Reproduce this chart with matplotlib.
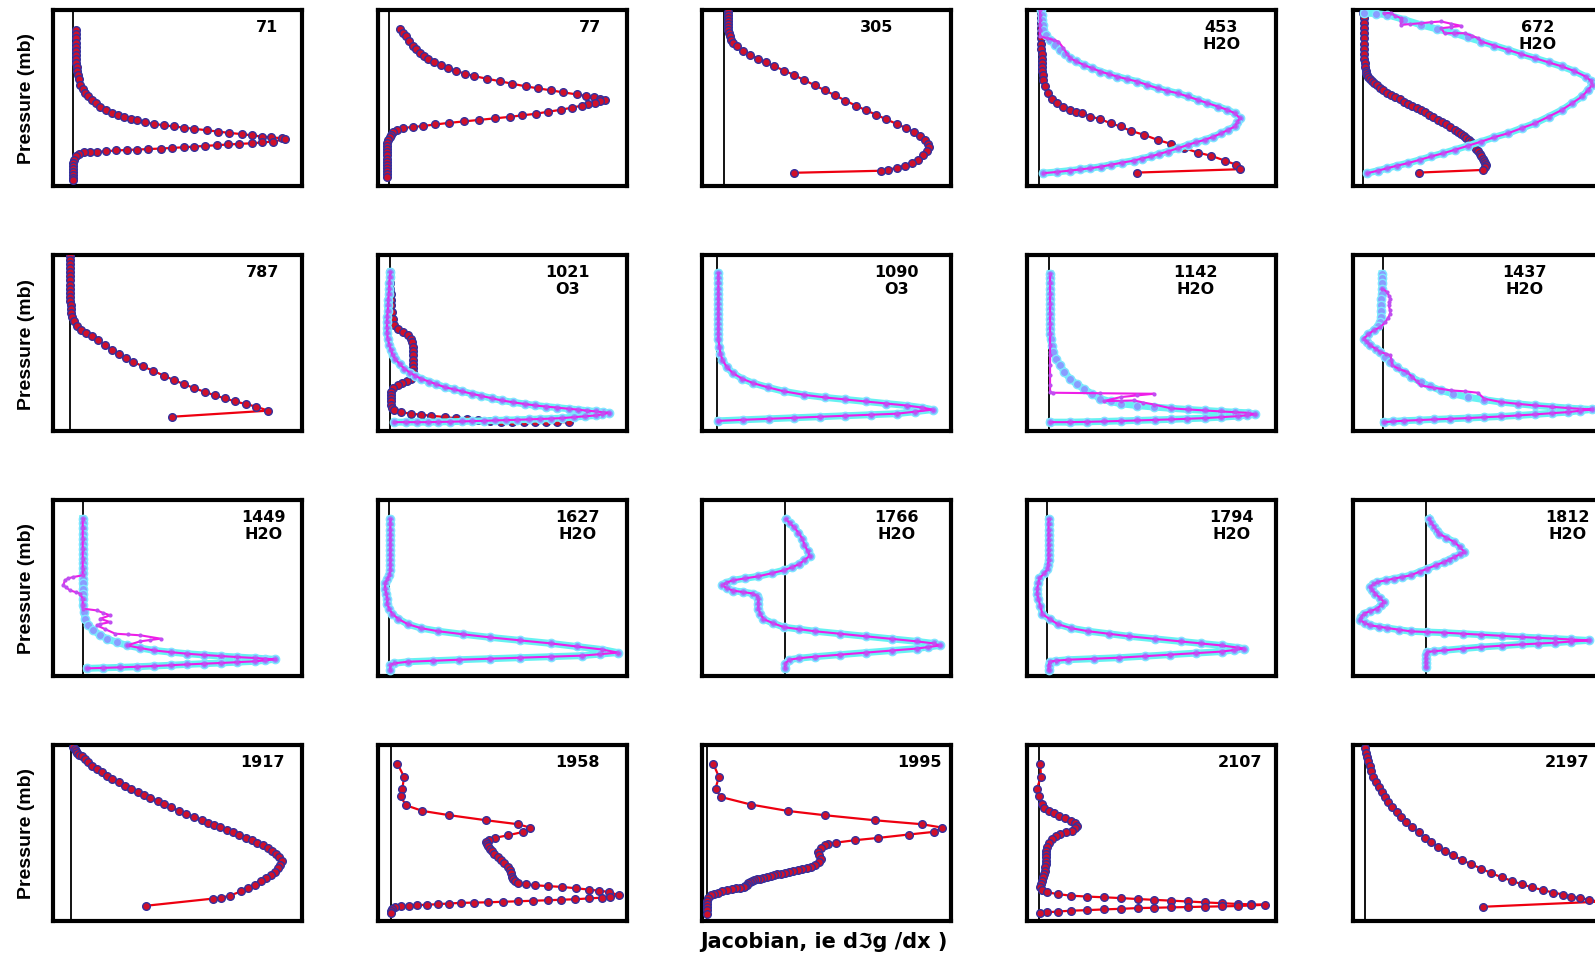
import numpy as np
import matplotlib.pyplot as plt

# channel numbers, absorbing gas and where the zero-Jacobian line sits in each box
channels = ['71', '77', '305', '453', '672',
            '787', '1021', '1090', '1142', '1437',
            '1449', '1627', '1766', '1794', '1812',
            '1917', '1958', '1995', '2107', '2197']
gases = ['', '', '', 'H2O', 'H2O',
         '', 'O3', 'O3', 'H2O', 'H2O',
         'H2O', 'H2O', 'H2O', 'H2O', 'H2O',
         '', '', '', '', '']
zero_off = [20, 11, 21, 12, 10,
            17, 12, 15, 21.5, 29,
            29, 11, 81, 20, 71,
            18, 13, 5, 12, 12]

# temperature jacobians (jacobian, level)
r71 = [(2.7, 19.5), (2.3, 24), (2.2, 28), (2.2, 32), (2.2, 36), (2.3, 40), (2.4, 44), (2.6, 48), (2.8, 52),
       (3, 56), (3.4, 60), (4, 64), (5, 68), (6.7, 73.6), (9, 78), (11.6, 81.8), (14.5, 85), (18, 88.3),
       (22, 91.6), (26.3, 94.9), (31.5, 98), (37.8, 101.4), (43, 103.5), (49.3, 105.4), (56, 107),
       (62.4, 108.6), (70, 110.5), (78.8, 112), (88, 113.3), (98.4, 114.5), (108, 115.7), (118, 116.8),
       (130, 118.2), (141, 119.5), (152, 120.8), (164, 122), (174, 123.2), (183.6, 124.4), (193, 125.2),
       (203, 126), (206.6, 126.8), (195, 129.3), (184, 130.2), (174, 131), (162, 131.6), (151, 132.2),
       (140, 132.9), (128, 133.6), (118, 134.3), (108, 134.9), (96, 135.6), (85, 136.2), (73, 136.7),
       (62, 137.2), (52, 137.6), (41, 138.1), (32, 138.8), (23, 139.5), (16, 139.8), (10, 140), (5, 141.4),
       (2.7, 144), (0.8, 147.3), (-0.5, 150), (-0.5, 153), (-0.5, 156), (-0.5, 159), (-0.5, 162),
       (-0.5, 165), (-0.5, 167)]
r77 = [(10, 19), (13, 22.5), (16, 26), (19.5, 30.5), (23, 35), (26.5, 38.5), (30, 42), (34, 45), (38, 48),
       (44, 51), (50, 54), (57, 57), (65, 60), (74, 62.5), (83, 65), (95, 67.5), (108, 70), (120, 72.5),
       (133, 75), (145, 77), (158, 79), (170, 81), (183, 83), (192, 84.5), (200, 86), (206, 87), (211, 88),
       (206, 89.5), (201, 91), (194, 92.5), (188, 94), (178, 96), (168, 98), (155, 100), (143, 102),
       (130, 103.5), (118, 105), (103, 106.5), (88, 108), (73, 109.5), (58, 111), (45, 112.5), (33, 114),
       (23, 115), (13, 116), (8, 118), (4, 120), (2, 122.5), (1, 125), (-1, 128), (-2, 131), (-2, 134),
       (-2, 137), (-2, 140), (-2, 143), (-2, 146), (-2, 149), (-2, 152), (-2, 155), (-2, 158), (-2, 161),
       (-2, 164)]
r305 = [(4, 2), (4, 5), (4, 8), (4, 11), (4, 14), (4, 17), (4.5, 20), (5, 23), (6, 26), (7.5, 29), (9, 32),
        (13, 35), (19, 40), (26, 44), (34, 48), (41, 51.5), (49, 55), (59, 59.5), (69, 64), (79, 69),
        (89, 74), (99, 79), (109, 84), (119, 89), (129, 94), (139, 98.5), (149, 103), (159, 107.5),
        (169, 112), (178, 116), (186, 120), (192, 124), (197, 128), (200, 131.5), (201, 135), (199, 139),
        (195, 143), (190, 147), (184, 150), (177, 153), (169, 155), (161, 157), (154, 158), (69, 160)]
r453 = [(1.4, 3), (1.6, 8), (1.8, 13), (2, 18), (2, 23), (2, 28), (2, 33), (2.1, 38), (2.2, 43), (2.3, 48),
        (2.4, 52), (2.6, 56), (3, 60), (3.4, 64), (4, 68.7), (6, 75), (8.9, 81.8), (12.5, 87), (17, 91.6),
        (23, 95.5), (30.2, 98.2), (36, 100), (41.7, 101.4), (49.9, 104.7), (59.7, 107.3), (69.5, 111.3),
        (79.4, 114.5), (89.2, 118.8), (102.3, 122.7), (115.4, 127.7), (128.5, 131.6), (141.6, 135.9),
        (154.7, 140.1), (167.9, 143.4), (181, 148), (192.4, 152.2), (195.7, 156.5), (95.7, 159.8)]
r672 = [(0, 3), (0.3, 8), (0.5, 13), (0.6, 18), (0.7, 23), (0.8, 28), (0.9, 33), (1, 38), (1.1, 43),
        (1.2, 48), (1.3, 52), (1.5, 56), (2.2, 60), (3, 62), (3.9, 63.7), (5, 65.5), (6.5, 67.5), (8.4, 69.8),
        (10.4, 72), (13, 74), (16, 76.5), (19.6, 79), (23.6, 81.8), (27, 83.5), (31, 85.5), (35.5, 87.8),
        (40, 90), (44, 92), (48, 94), (52, 96), (56.3, 98.2), (60, 100.5), (64, 103), (68, 105.5),
        (72.7, 108), (77, 110.2), (81, 112.5), (85, 115), (89.1, 117.8), (92, 119.6), (95, 121.5),
        (98, 123.7), (100.6, 126), (103, 128), (105, 130), (107, 132), (108.8, 134.2), (110.5, 136.5),
        (112, 139), (113.7, 141.5), (115.3, 144), (116.7, 146), (118, 148), (119.3, 150), (120.2, 152.2),
        (119, 154.5), (117, 157.2), (54.7, 159.8)]
r787 = [(0, 1), (0, 5), (0, 9), (0, 13), (0, 17), (0, 21), (0, 25), (0, 29), (0, 33), (0, 37), (0, 41),
        (0, 45), (0.3, 49), (0.6, 53), (1, 57), (2, 61), (3.5, 65), (6, 70), (10, 73.5), (15, 77), (21, 80),
        (27, 84), (34, 88.5), (41, 93), (47, 97), (54, 101), (61, 105), (71, 109.5), (81, 114), (91, 118.5),
        (101, 123), (111, 127), (121, 131), (131, 134.5), (141, 138), (151, 141), (161, 144), (171, 146.5),
        (181, 149), (193, 153), (99, 159)]
r1021 = [(0, 16.8), (0, 22), (0, 27.5), (0, 33.2), (0.3, 38.5), (0.5, 44), (0.7, 49.6), (1.5, 56),
         (2.3, 62.7), (4, 69.2), (7.3, 72.5), (12, 75.5), (17, 79), (20.4, 82.3), (21.5, 86), (22, 90),
         (22, 94), (22, 98.7), (22, 103), (22, 107), (22, 111), (22, 115), (20.4, 121.7), (16, 124),
         (11, 126), (7.3, 128.2), (3, 131), (0.7, 134.8), (0.7, 138), (0.7, 141), (0.7, 144), (0.7, 147.9),
         (2, 150.5), (4, 152.8), (10, 154.5), (20.4, 156), (30, 157), (40, 158), (53.1, 159.3), (64, 160.5),
         (75, 161.5), (85.9, 162.6), (97, 163.3), (108, 163.8), (118.7, 164.3), (130, 164.3), (141, 164.3),
         (151.5, 164.3), (163, 164.3), (174.4, 164.3)]
r1917 = [(2, 2), (3, 4), (4, 6), (5.5, 8), (7, 9.5), (10, 11), (13, 13.5), (16, 16.5), (20, 21), (25, 24),
         (30, 27), (35, 30), (40, 33), (46, 36), (52, 40), (58, 43), (65, 46), (71, 49), (77, 52), (84, 55),
         (90, 58), (97, 61), (105, 65), (112, 68), (120, 71), (127, 74), (133, 77), (139, 79), (145, 81),
         (152, 84), (158, 86), (164, 88.5), (170, 91), (176, 93.5), (181, 96), (187, 98.5), (192, 101),
         (196, 104), (200, 107), (203, 110.5), (205, 114), (204, 117.5), (202, 121), (199, 124.5),
         (195, 128), (190, 131), (185, 134), (179, 137.5), (172, 141), (165, 144), (155, 148), (146, 150),
         (138, 151), (73, 158)]
r1958 = [(5.9, 18.2), (12.4, 31.3), (10.8, 42.8), (9.2, 50.4), (14.1, 59.2), (30.4, 64.8), (56.7, 69),
         (92.7, 74), (123.9, 77.9), (135.3, 81.2), (128.8, 85.4), (114, 88.7), (100.9, 91.3), (95, 93),
         (92.7, 95.3), (93, 97.5), (94, 99.5), (96, 101.8), (98, 104.5), (100.5, 107), (104.2, 110),
         (107, 113), (110, 116), (114, 119.8), (115.5, 123), (116.5, 126), (117.3, 129.7), (119, 132),
         (120.5, 134), (123.9, 135.6), (131, 136.8), (140.2, 137.9), (153, 138.7), (166.5, 139.5),
         (180, 140.8), (192.7, 142.1), (203, 143.3), (212.4, 144.4), (222.2, 147.7), (213, 149),
         (205.8, 150), (193, 150.8), (179.6, 151.6), (166, 152.1), (153.3, 152.6), (138, 153.1),
         (123.9, 153.6), (109, 154.1), (94.4, 154.6), (81, 154.9), (68.1, 155.2), (56, 155.8), (45.2, 156.5),
         (35, 157), (25.5, 157.5), (17, 158), (9.2, 158.5), (4, 159.5), (1, 160.8), (0, 163), (0, 165.1)]
r1995 = [(5.9, 18.2), (11.5, 31.3), (8.2, 42.8), (13.1, 51), (42.6, 58.5), (78.6, 64.8), (114.7, 69),
         (163.9, 74), (209.8, 77.9), (229.4, 81.2), (221.2, 85.4), (196.6, 88), (167.1, 91.3), (144.2, 93.6),
         (126.2, 95.9), (118, 97), (114.7, 98.5), (111, 101.5), (108.2, 105.1), (109, 108), (111.4, 111.7),
         (109, 115), (104.9, 118.2), (101, 119.5), (97, 120.8), (93, 122), (88.5, 123.1), (84, 124),
         (80, 125), (76, 125.8), (72, 126.5), (68.5, 127.2), (65.6, 128), (62, 128.9), (58, 129.8),
         (55, 130.5), (52, 131.3), (49, 132.1), (45.9, 133), (44, 134), (42, 135), (40, 136), (38.5, 137.2),
         (37, 138.4), (36.1, 139.5), (32, 140.2), (28, 141), (24, 141.9), (19.7, 142.8), (15, 144),
         (11, 145), (7, 146.3), (3.3, 147.7), (1, 150.5), (0, 153), (0, 155.9), (0, 159), (0, 162),
         (0, 165.7)]
r2107 = [(1, 18.2), (1.6, 31.3), (-2.3, 42.8), (-0.7, 50.4), (2.6, 58), (5, 61.5), (9.2, 64.5), (14, 67),
         (19, 69.4), (25, 72), (30.5, 74.4), (35, 76.8), (37, 79.3), (35, 82), (32.1, 84.2), (26, 85.8),
         (20.6, 87.5), (16, 89.8), (12.4, 92.4), (9.5, 96), (7.5, 100.6), (7, 104), (7, 107), (6.9, 110.4),
         (6.5, 114), (6.3, 117), (6, 120), (5.9, 123.5), (5, 126.5), (4, 129.5), (2.6, 133.4), (1.5, 136.5),
         (1, 139.9), (3, 142.5), (7.5, 144.8), (18, 146.5), (30.5, 148.1), (47, 149), (63.2, 149.7),
         (80, 150.5), (96, 151.4), (112, 152.2), (128.8, 153), (145, 153.8), (161.6, 154.7), (178, 155.5),
         (194.3, 156.3), (207, 156.6), (220.6, 157), (207, 157.7), (194.3, 158.3), (178, 158.6),
         (161.6, 158.9), (145, 159.3), (128.8, 159.6), (112, 160), (96, 160.3), (80, 161), (63.2, 161.6),
         (47, 162.3), (30.5, 162.9), (18, 163.7), (7.5, 164.5), (1, 165.5)]
r2197 = [(0, 3), (1, 8), (2, 12), (3, 16), (4.5, 21), (6, 26), (8, 31), (10.5, 36), (13, 41), (16, 46),
         (19.5, 51), (22.5, 56), (26, 61), (30.5, 66), (35, 71), (40, 76), (46, 81), (52, 86), (58, 91),
         (64, 95.5), (71, 100), (78, 104), (86, 108.5), (94, 113), (103, 117), (113, 121.5), (123, 126),
         (133, 130), (143, 133.5), (153, 137), (163, 140), (173, 142.5), (183, 145), (193, 147), (201, 149),
         (210, 150.5), (218, 152), (228, 154), (115, 159)]

# gas jacobians, smooth version (cyan)
c453 = [(2, 0), (2.5, 5), (3, 10), (3.5, 15), (4, 19.5), (6.5, 24.5), (10.5, 29.3), (15, 34), (20.4, 39.2),
        (25, 43.5), (30.2, 47.4), (36, 50.5), (43.3, 53.9), (51, 57), (59.7, 60.5), (68, 63), (76, 65.4),
        (86, 68), (95.7, 70.3), (105, 73.5), (115.4, 76.9), (125, 79.5), (135, 81.8), (145, 85),
        (154.7, 88.3), (164, 91.5), (174.4, 94.9), (183, 98), (190.8, 101.4), (195.7, 106.4), (193, 110.5),
        (190.8, 114.5), (184, 118), (177.7, 121.1), (170, 124.5), (161.3, 127.7), (153, 130), (145, 132.6),
        (135, 136), (125.2, 139.1), (117, 141.5), (108.9, 144), (100, 146), (92.5, 148), (81, 150),
        (69.5, 152.2), (60, 154), (49.9, 155.5), (40, 156.7), (30.2, 157.8), (17, 159.2), (4, 160.4)]
c672 = [(0.6, 3), (12, 3.5), (23.6, 4.7), (40, 9.5), (56.3, 14.6), (72, 18.7), (89.1, 22.8), (102, 27),
        (115.3, 31), (128, 35), (141.5, 39.2), (154, 43.3), (167.8, 47.4), (181, 51.5), (194, 55.5),
        (206, 60), (217, 65.4), (222, 69.5), (223.5, 73.6), (219, 79), (213.6, 85), (204, 91.5), (194, 98.2),
        (181, 104.8), (167.8, 111.3), (155, 116), (141.5, 121.1), (128, 125), (115.3, 129.3), (102, 133.5),
        (89.1, 137.5), (78, 140.8), (66.2, 144), (55, 147.3), (43.2, 150.6), (33, 153), (23.6, 155.5),
        (14, 158), (3.9, 160.4)]
c1021 = [(0, 16.8), (-0.5, 22), (-1, 27.5), (-1, 33), (-1.5, 38.5), (-2, 44), (-2, 49.6), (-2.6, 55),
         (-3, 60.5), (-3.3, 66), (-3.3, 71.5), (-3, 77), (-2.6, 82.3), (-1, 88), (0.5, 93.5), (2.3, 98.7),
         (5, 102.5), (9, 107), (13.8, 111.8), (19, 115.5), (24, 118.5), (30.2, 121.7), (38, 124.5),
         (45, 127), (53.1, 129.9), (62, 132), (70, 134), (79.4, 136.4), (89, 138.5), (99, 140.8),
         (108.9, 143), (120, 144.8), (131, 146.4), (141.6, 147.9), (152, 149), (163, 150), (174.4, 151.2),
         (183, 152), (192, 153), (200.6, 153.8), (208, 154.5), (213.7, 155.1), (207, 156.5), (200.6, 157.7),
         (190, 158.5), (179, 159.4), (167.8, 160.3), (157, 160.8), (146, 161.2), (135, 161.6), (124, 162),
         (113, 162.3), (102.3, 162.6), (91, 163), (80, 163.3), (69.5, 163.6), (58, 163.9), (47, 164.1),
         (36.8, 164.3), (26, 164.3), (15, 164.3), (4, 164.3)]
c1090 = [(1, 18), (1, 23), (1, 28), (1, 33), (1, 38), (1, 43), (1, 48), (1, 53), (1, 58), (1, 63), (1, 68),
         (1, 73), (1, 78), (1, 83), (2, 90), (3, 97), (5, 103), (9, 110), (15, 116), (24, 121.5), (35, 126),
         (49, 130), (65, 134), (85, 137.5), (105, 140), (125, 142), (145, 144), (165, 146), (185, 148),
         (200, 150), (210, 152), (193, 154), (175, 156), (150, 157), (125, 158), (100, 159), (75, 160),
         (50, 161), (25, 162), (1, 163)]
c1142 = [(1, 18.4), (1, 23), (1, 28), (1, 33), (1, 38), (1, 43), (1, 48), (1, 53), (1, 58), (1, 63),
         (1, 68), (1.2, 73), (1.4, 78), (1.6, 82.3), (2.5, 89), (4.3, 95.4), (7, 102), (10.8, 108.5),
         (15, 115), (20.6, 121.7), (27, 127), (33.8, 131.5), (42, 136.5), (50.2, 141.3), (60, 144),
         (69.8, 146.2), (86, 148), (102.6, 149.5), (119, 150.7), (135.4, 151.8), (152, 152.8),
         (168.2, 153.8), (181, 154.5), (194.4, 155.1), (201, 156.7), (193, 157.5), (184.6, 158.4),
         (168, 159.4), (151.9, 160.3), (135, 161), (119, 161.6), (103, 162.1), (86.2, 162.6), (70, 163.1),
         (53.4, 163.6), (37, 164), (20.6, 164.3), (1, 164.3)]
c1437 = [(-0.7, 18.4), (-0.7, 23), (-0.7, 28), (-0.7, 33.2), (-1, 38), (-1.2, 43), (-1.6, 49.6), (-2, 55),
         (-2, 60.5), (-2.3, 66), (-5, 70), (-8.9, 74.1), (-14, 78), (-18.7, 82.3), (-15, 85.5),
         (-12.1, 88.9), (-7, 92), (-2.3, 95.4), (2.5, 100), (7.5, 105.3), (13.5, 110), (20.6, 115.1),
         (28, 120), (37, 124.9), (46, 129), (56.7, 133.1), (69, 136.5), (82.9, 139.7), (99, 142.2),
         (115.7, 144.6), (132, 146.3), (148.5, 147.9), (165, 149.2), (181.3, 150.5), (193, 151.2),
         (204.2, 151.8), (193, 153), (181.3, 154.4), (165, 155.5), (148.5, 156.7), (132, 157.7),
         (115.7, 158.7), (99, 159.5), (82.9, 160.3), (66, 161), (50.1, 161.6), (35, 162.3), (20.6, 162.9),
         (10, 163.6), (1, 164.3)]
c1449 = [(0, 18.3), (0, 23), (0, 28), (0, 33), (0, 38), (0, 43), (0, 48), (0, 53), (0.5, 58), (0.7, 62),
         (0.5, 67), (0, 72), (0, 77.3), (0, 82), (0, 87), (0, 92), (0, 97), (0, 103.5), (1, 110),
         (2.3, 116.7), (5.5, 122.5), (10.4, 128.1), (16.5, 132.5), (23.6, 136.3), (33, 139.8),
         (43.2, 142.9), (56, 145.5), (69.4, 147.8), (86, 149.6), (102.2, 151.1), (118, 152.3), (135, 153.4),
         (151, 154.4), (167.7, 155.3), (178, 156), (187.4, 156.6), (178, 157.6), (167.7, 158.6),
         (151, 159.4), (135, 160.2), (118, 160.9), (102.2, 161.6), (86, 162.4), (69.4, 163.2), (53, 163.9),
         (36.7, 164.5), (20, 165), (3.9, 165.5)]
c1627 = [(1, 19), (1, 24), (1, 29), (1, 34), (1, 39), (1, 44), (1, 49), (1, 54), (1, 59), (1, 64), (1, 69),
         (0, 74), (-2, 78), (-4, 82), (-4, 87), (-3, 92), (-2, 97), (-2, 102), (0, 107), (3, 112), (9, 117),
         (18, 122), (31, 126), (48, 129), (72, 132), (98, 135), (128, 138), (158, 141), (183, 144),
         (208, 147), (223, 150), (206, 151.5), (188, 153), (158, 154), (128, 155), (98, 156), (68, 157),
         (43, 158), (18, 159), (5, 160.5), (1, 162), (1, 167)]
c1766 = [(1, 19), (5, 23), (9, 27), (13, 32), (17, 38), (19, 44), (22, 50), (24, 55), (19, 59), (14, 63),
         (7, 66), (-1, 69), (-13, 72), (-26, 75), (-39, 77), (-51, 79), (-58, 81.5), (-61, 84), (-57, 86.5),
         (-51, 89), (-41, 90.5), (-31, 92), (-27, 94.5), (-26, 97), (-26, 102), (-26, 107), (-24, 112),
         (-21, 117), (-12, 121), (-1, 125), (14, 127), (29, 129), (54, 131.5), (79, 134), (104, 136.5),
         (129, 139), (145, 141), (151, 143), (140, 144.5), (129, 146), (104, 148), (79, 150), (54, 152),
         (29, 154), (14, 155.5), (4, 157), (0, 161), (0, 165)]
c1794 = [(1, 19), (1, 24), (1, 29), (1, 34), (1, 39), (1, 44), (1, 49), (1, 54), (1, 59), (0.5, 64), (0, 68),
         (-3, 72), (-8, 77), (-9, 82), (-10, 87), (-10, 92), (-9, 97), (-7, 104), (-5, 112), (2, 117),
         (10, 122), (23, 126), (40, 129), (60, 131.5), (80, 134), (105, 136.5), (130, 139), (150, 141),
         (170, 143), (185, 145), (192, 146), (182, 147.5), (170, 149), (145, 150.5), (120, 152), (95, 153.5),
         (70, 155), (45, 156), (20, 157), (8, 158), (2, 159), (1, 163), (1, 167)]
c1812 = [(3.3, 18.3), (5.5, 22.5), (8.2, 26.5), (10.5, 30), (13.1, 33.1), (20, 37), (27.9, 41.3), (33, 46),
         (37.7, 51.1), (33, 53.5), (27.9, 56), (23, 58.5), (18, 60.9), (10, 64), (1.6, 67.5), (-6, 70.5),
         (-14.7, 74), (-23, 75.7), (-31.1, 77.3), (-39, 79), (-47.5, 80.6), (-51, 83), (-54, 85.5),
         (-52, 88.5), (-49.1, 92.1), (-45, 96), (-40.9, 100.3), (-44, 103.5), (-47.5, 106.8), (-54, 109.2),
         (-60.6, 111.7), (-63, 115), (-63.9, 118.3), (-59, 121), (-54, 123.2), (-46, 124.5), (-37.7, 125.8),
         (-26, 127.5), (-14.7, 129.1), (1.6, 129.8), (18, 130.4), (36, 131.4), (54.1, 132.4), (74, 133.5),
         (93.5, 134.7), (110, 135.5), (126.2, 136.3), (142, 137.1), (159, 138), (142, 139.1), (126.2, 140.3),
         (110, 141.1), (93.5, 141.9), (74, 143.2), (54.1, 144.5), (36, 146.1), (18, 147.8), (8, 148.6),
         (1.6, 149.4), (0, 152.7), (0, 156), (0, 160), (0, 164.2)]

# gas jacobians, second calculation (magenta) where it leaves the cyan curve
m453 = [(0.7, 0), (0.7, 5), (0.7, 10), (0.7, 15), (0.7, 20), (0.7, 26), (7.3, 27.7), (14, 29.5), (18.7, 31),
        (23.6, 37.5), (27, 43), (30.2, 47.4)] + c453[11:]
m672 = [(20, 3), (26.8, 3), (31, 5.5), (36.7, 8), (36.7, 11), (36.7, 14.6), (46, 13.8), (56.3, 13), (66, 12),
        (76, 11.3), (86, 13.5), (95.7, 15.6), (86, 16.8), (76, 17.9), (79.3, 22.8), (89, 22.8), (99, 22.8),
        (106, 25.2), (112, 27.7), (115.3, 31)] + c672[9:]
m1142 = [(1, 18.4), (1, 28), (1, 38), (1, 48), (1, 58), (1, 68), (1, 78), (1, 88), (1, 98), (1, 108), (1, 118),
         (1, 128), (1, 134.8), (4.3, 135.4), (50, 135.9), (102.6, 136.4), (86, 138), (69.8, 139.7),
         (53.4, 143.6), (70, 143.3), (83, 143), (92, 145), (102.6, 147)] + c1142[28:]
m1437 = [(-0.7, 33.2), (4.3, 36.4), (6, 40), (7.5, 43), (6.5, 46), (5.9, 49.6), (7, 54), (7.5, 57.7), (5, 62),
         (2.6, 66), (-2.3, 70.9), (-8.9, 74.1), (-14, 78), (-18.7, 82.3), (-15, 85.5), (-12.1, 88.9), (-7, 92),
         (-2.3, 95.4), (3, 97), (7.5, 98.7), (8.5, 103), (9.2, 108.5), (16, 112), (23.9, 115.1), (29, 120),
         (33, 124), (37, 128.2), (50, 130.5), (66.5, 133.1), (80, 134), (92.7, 135.4), (99.3, 141.3),
         (115.7, 144.6)] + c1437[30:]
m1449 = [(0, 18.3), (0, 28), (0, 38), (0, 48), (0, 58), (0, 68), (0, 74), (-9.2, 75.7), (-14, 77), (-17.4, 79),
         (-19, 83.9), (-16, 86), (-12.5, 88.8), (-7, 90.5), (-2.6, 92.1), (0, 97), (0, 103), (0, 106.8),
         (13.7, 108.5), (20, 111), (26.8, 113.4), (17, 116.7), (26.8, 120), (17, 122), (13.7, 123.2),
         (22, 127), (31.7, 131.4), (44, 132.2), (56.3, 133), (76, 136.3), (66, 137.6), (56.3, 138.9),
         (43.2, 142.9)] + c1449[26:]

temp_curves = {'71': r71, '77': r77, '305': r305, '453': r453, '672': r672, '787': r787, '1021': r1021,
               '1917': r1917, '1958': r1958, '1995': r1995, '2107': r2107, '2197': r2197}
gas_curves = {'453': c453, '672': c672, '1021': c1021, '1090': c1090, '1142': c1142, '1437': c1437,
              '1449': c1449, '1627': c1627, '1766': c1766, '1794': c1794, '1812': c1812}
gas2_curves = {'453': m453, '672': m672, '1021': c1021, '1090': c1090, '1142': m1142, '1437': m1437,
               '1449': m1449, '1627': c1627, '1766': c1766, '1794': c1794, '1812': c1812}

# where the channel label sits (fraction of box width)
label_x = [0.86, 0.85, 0.70, 0.78, 0.74,
           0.84, 0.76, 0.78, 0.675, 0.69,
           0.845, 0.80, 0.78, 0.82, 0.86,
           0.84, 0.80, 0.875, 0.855, 0.86]

W, H = 1595, 954
col_left = [53, 378, 702, 1027, 1353]
row_top = [11, 256, 501, 746]
box_w, box_h = 249, 176

fig = plt.figure(figsize=(W / 100, H / 100), dpi=100)

for i, ch in enumerate(channels):
    r, c = divmod(i, 5)
    ax = fig.add_axes([col_left[c] / W, 1 - (row_top[r] + box_h) / H, box_w / W, box_h / H])
    z = zero_off[i]
    ax.set_xlim(-z, 243 - z)
    ax.set_ylim(173, 0)
    ax.axvline(0, color='black', lw=1.3, zorder=1)

    if ch in temp_curves:
        d = np.array(temp_curves[ch])
        ax.plot(d[:, 0], d[:, 1], '-o', color='#ee0010', lw=1.6, ms=5.5,
                mfc='#d0102a', mec='#33309e', mew=1.0, zorder=3)
    if ch in gas_curves:
        d = np.array(gas_curves[ch])
        ax.plot(d[:, 0], d[:, 1], '-o', color='#66f2f2', lw=5, ms=6,
                mfc='#8a9cff', mec='#7fe6ff', mew=1.0, zorder=4)
        d = np.array(gas2_curves[ch])
        ax.plot(d[:, 0], d[:, 1], '-o', color='#ee1ee8', lw=1.5, ms=3,
                mfc='#c04ef0', mec='none', zorder=5)

    ax.text(label_x[i], 0.905, ch, transform=ax.transAxes, ha='center', va='center',
            fontsize=11.5, fontweight='bold')
    if gases[i]:
        ax.text(label_x[i], 0.81, gases[i], transform=ax.transAxes, ha='center', va='center',
                fontsize=11.5, fontweight='bold')

    ax.set_xticks([])
    ax.set_yticks([])
    for s in ax.spines.values():
        s.set_linewidth(3)

for r in range(4):
    yc = 1 - (row_top[r] + box_h / 2) / H
    fig.text(27 / W, yc, 'Pressure (mb)', rotation=90, ha='center', va='center',
             fontsize=14, fontweight='bold', family=['Liberation Sans', 'DejaVu Sans'])

fig.text(824 / W, 1 - 942 / H, 'Jacobian, ie d\u2111g /dx )', ha='center', va='center',
         fontsize=15, fontweight='bold')

fig.savefig('out.png', dpi=100)
